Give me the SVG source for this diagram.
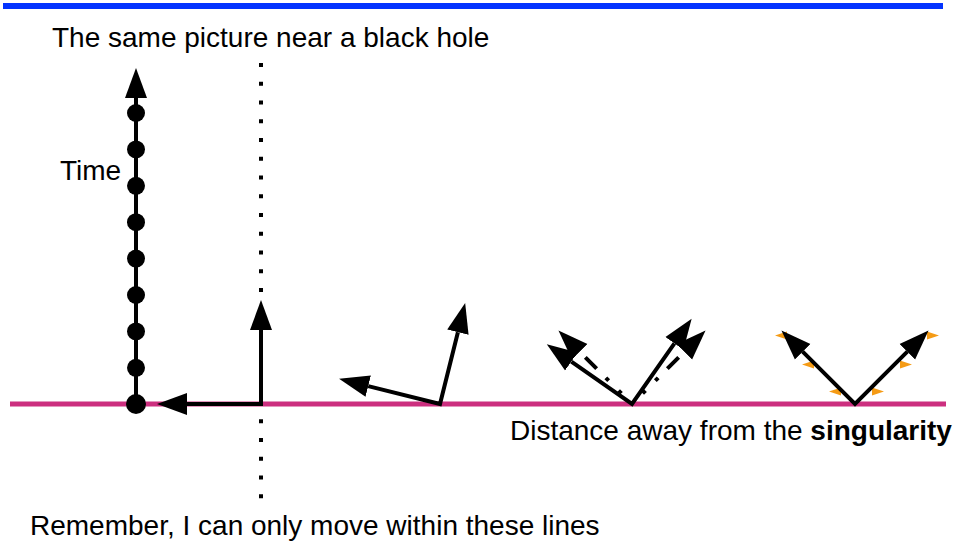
<svg xmlns="http://www.w3.org/2000/svg" width="957" height="544" viewBox="0 0 957 544">
  <style>
    .t { font-family: "Liberation Sans", Arial, Helvetica, sans-serif; font-size: 28px; fill: #000; }
    .b { font-weight: bold; }
    .ax { stroke: #000; stroke-width: 4; fill: none; stroke-linejoin: miter; }
    .dash { stroke: #000; stroke-width: 4; fill: none; stroke-dasharray: 0 15 4 14 4 13 16 40; }
    .or { fill: #f59b15; }
  </style>
  <defs>
    <marker id="head" markerUnits="userSpaceOnUse" markerWidth="32" markerHeight="24" viewBox="0 -12 32 24" refX="0" refY="0" orient="auto-start-reverse">
      <path d="M0,-11 L30,0 L0,11 Z" fill="#000"/>
    </marker>
    <path id="frame" d="M0,-74 V0 H-74" class="ax" marker-start="url(#head)" marker-end="url(#head)"/>
  </defs>

  <rect id="top-bar" x="3" y="3" width="940" height="6" fill="#0433ff"/>

  <g id="title"><text class="t" x="52" y="47">The same picture near a black hole</text></g>

  <g id="boundary-line">
    <line x1="261" y1="63" x2="261" y2="499" stroke="#000" stroke-width="4" stroke-dasharray="4 14.75"/>
  </g>

  <g id="distance-axis">
    <line x1="10" y1="404" x2="946" y2="404" stroke="#cc2f7f" stroke-width="5"/>
  </g>

  <g id="time-axis">
    <line x1="136" y1="404" x2="136" y2="98" stroke="#000" stroke-width="4" marker-end="url(#head)"/>
    <circle cx="136" cy="113" r="9"/>
    <circle cx="136" cy="149.4" r="9"/>
    <circle cx="136" cy="185.8" r="9"/>
    <circle cx="136" cy="222.2" r="9"/>
    <circle cx="136" cy="258.6" r="9"/>
    <circle cx="136" cy="295" r="9"/>
    <circle cx="136" cy="331.4" r="9"/>
    <circle cx="136" cy="367.8" r="9"/>
    <circle cx="136" cy="404" r="10"/>
    <text class="t" x="60" y="180">Time</text>
  </g>

  <g id="connectors">
    <g id="frame1" transform="translate(261,404)"><use href="#frame"/></g>
    <g id="frame2" transform="translate(440,404) rotate(14)"><use href="#frame"/></g>
    <g id="frame3" transform="translate(632,404)">
      <g transform="rotate(45)">
        <line x1="0" y1="0" x2="0" y2="-74" class="dash" marker-end="url(#head)"/>
        <line x1="0" y1="0" x2="-74" y2="0" class="dash" marker-end="url(#head)"/>
      </g>
      <g transform="rotate(35)"><use href="#frame"/></g>
    </g>
    <g id="frame4">
      <path class="or" d="M775,335.5 L787,331.5 L787,339.5 Z"/>
      <path class="or" d="M802,364.5 L814,360.5 L814,368.5 Z"/>
      <path class="or" d="M829,391.5 L841,387.5 L841,395.5 Z"/>
      <path class="or" d="M884,391.5 L872,387.5 L872,395.5 Z"/>
      <path class="or" d="M912,364.5 L900,360.5 L900,368.5 Z"/>
      <path class="or" d="M939,335.5 L927,331.5 L927,339.5 Z"/>
      <g transform="translate(855,404) rotate(45)"><use href="#frame"/></g>
    </g>
  </g>

  <g id="axis-label"><text class="t" x="510" y="440">Distance away from the <tspan class="b">singularity</tspan></text></g>
  <g id="note"><text class="t" x="30" y="535">Remember, I can only move within these lines</text></g>
</svg>
